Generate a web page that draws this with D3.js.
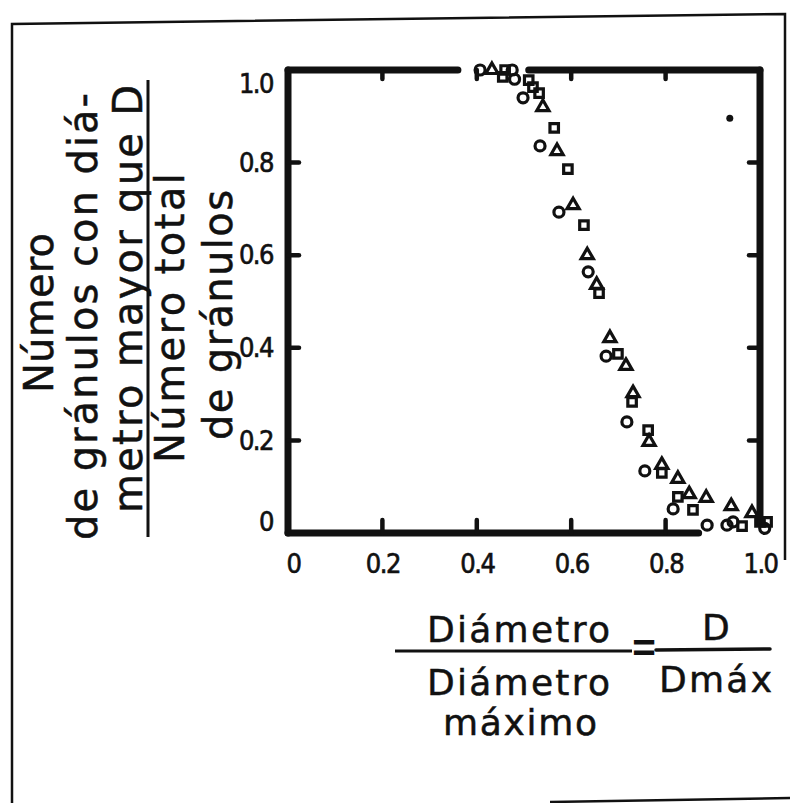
<!DOCTYPE html>
<html><head><meta charset="utf-8">
<script src="https://cdn.jsdelivr.net/npm/d3@7"></script>
<style>body{margin:0;background:#fff} svg{display:block;background:#fff}</style>
</head><body><svg id="c" width="790" height="803"></svg>
<script>
// ---- data ----
const circles = [[0.407,1.0],[0.475,1.0],[0.48,0.98],[0.498,0.94],[0.534,0.836],[0.574,0.693],[0.636,0.564],[0.674,0.382],[0.718,0.240],[0.756,0.134],[0.816,0.052],[0.888,0.017],[0.93,0.017],[0.943,0.024],[1.01,0.01]];
const triangles = [[0.432,1.0],[0.54,0.92],[0.57,0.825],[0.604,0.708],[0.634,0.60],[0.654,0.536],[0.682,0.421],[0.716,0.361],[0.731,0.302],[0.765,0.197],[0.792,0.147],[0.826,0.117],[0.85,0.084],[0.886,0.076],[0.939,0.058],[0.983,0.043]];
const squares = [[0.46,1.0],[0.455,0.985],[0.51,0.978],[0.519,0.963],[0.532,0.95],[0.564,0.875],[0.593,0.786],[0.627,0.665],[0.659,0.518],[0.699,0.387],[0.729,0.283],[0.763,0.222],[0.792,0.13],[0.826,0.078],[0.858,0.05],[0.962,0.015],[1.0,0.024],[1.015,0.024]];
const specks = [[0.936,0.896]];
const tickValues = [0,0.2,0.4,0.6,0.8,1.0];
const tickLabels = ['0','0.2','0.4','0.6','0.8','1.0'];
const innerTicks = [0.2,0.4,0.6,0.8];
const topAxisSegments = [[0,0.36],[0.51,1.0]];
const bottomAxisSegment = [0,0.87];
const rightAxisSegment = [0.02,1.0];
const yTitleLines = ['Número','de gránulos con diá-','metro mayor que D','Número total','de gránulos'];
const xTitleNum = 'Diámetro';
const xTitleDen = ['Diámetro','máximo'];
const xTitleNum2 = 'D';
const xTitleDen2 = 'Dmáx';

// ---- drawing ----
const svg = d3.select('#c');
const ink = '#111';
const x = d3.scaleLinear().domain([0,1]).range([288,760]);
const y = d3.scaleLinear().domain([0,1]).range([533,70]);
const FONT = "'DejaVu Sans', sans-serif";
const NUMFONT = "'DejaVu Sans Condensed','DejaVu Sans', sans-serif";

// outer border of the scanned figure
svg.append('path').attr('d','M12,803 L12,24 L785,14 L785,560')
  .attr('fill','none').attr('stroke',ink).attr('stroke-width',2.5);
svg.append('line').attr('x1',550).attr('y1',802).attr('x2',790).attr('y2',798)
  .attr('stroke',ink).attr('stroke-width',2.5);

// frame
const frame = svg.append('g').attr('stroke',ink).attr('stroke-linecap','round').attr('stroke-width',7);
frame.append('line').attr('x1',x(0)).attr('x2',x(0)).attr('y1',y(1)).attr('y2',y(0));
frame.append('line').attr('x1',x(bottomAxisSegment[0])).attr('x2',x(bottomAxisSegment[1])).attr('y1',y(0)).attr('y2',y(0));
frame.selectAll('.top').data(topAxisSegments).join('line')
  .attr('x1',d=>x(d[0])).attr('x2',d=>x(d[1])).attr('y1',y(1)).attr('y2',y(1));
frame.append('line').attr('x1',x(1)).attr('x2',x(1)).attr('y1',y(rightAxisSegment[1])).attr('y2',y(rightAxisSegment[0]));

// inward ticks
const tk = svg.append('g').attr('stroke',ink).attr('stroke-width',4.5).attr('stroke-linecap','round');
tk.selectAll('.tl').data(innerTicks).join('line').attr('x1',x(0)).attr('x2',x(0)+11).attr('y1',d=>y(d)).attr('y2',d=>y(d));
tk.selectAll('.tr').data(innerTicks).join('line').attr('x1',x(1)).attr('x2',x(1)-11).attr('y1',d=>y(d)).attr('y2',d=>y(d));
tk.selectAll('.tb').data(innerTicks).join('line').attr('x1',d=>x(d)).attr('x2',d=>x(d)).attr('y1',y(0)).attr('y2',y(0)-13);
tk.selectAll('.tt').data(innerTicks).join('line').attr('x1',d=>x(d)).attr('x2',d=>x(d)).attr('y1',y(1)).attr('y2',y(1)+9);

// tick labels via d3 axes
const gy = svg.append('g').attr('transform',`translate(${x(0)},0)`)
  .call(d3.axisLeft(y).tickValues(tickValues).tickFormat((d,i)=>tickLabels[i]).tickSize(0).tickPadding(15));
gy.select('.domain').remove();
gy.selectAll('text').attr('font-family',NUMFONT).attr('font-size',27).attr('letter-spacing','-1.5px')
  .attr('stroke',ink).attr('stroke-width',0.6)
  .attr('fill',ink).attr('dy',d=> d===0 ? '-3px' : (d===1 ? '22px' : '0.32em'));

const gx = svg.append('g').attr('transform',`translate(0,${y(0)})`)
  .call(d3.axisBottom(x).tickValues(tickValues).tickFormat((d,i)=>tickLabels[i]).tickSize(0).tickPadding(21));
gx.select('.domain').remove();
gx.selectAll('text').attr('font-family',NUMFONT).attr('font-size',27).attr('letter-spacing','-1.5px')
  .attr('stroke',ink).attr('stroke-width',0.6)
  .attr('fill',ink).attr('dx',d=> d===0 ? '5px' : 0);

// markers
const pts = svg.append('g').attr('fill','none').attr('stroke',ink).attr('stroke-width',3.2);
pts.selectAll('.c').data(circles).join('circle').attr('cx',d=>x(d[0])).attr('cy',d=>y(d[1])).attr('r',5);
const tri = d3.symbol().type(d3.symbolTriangle).size(64);
pts.selectAll('.t').data(triangles).join('path').attr('d',tri)
  .attr('transform',d=>`translate(${x(d[0])},${y(d[1])})`);
const sq = d3.symbol().type(d3.symbolSquare).size(72);
pts.selectAll('.s').data(squares).join('path').attr('d',sq)
  .attr('transform',d=>`translate(${x(d[0])},${y(d[1])})`);
svg.selectAll('.speck').data(specks).join('circle').attr('cx',d=>x(d[0])).attr('cy',d=>y(d[1])).attr('r',3.5).attr('fill',ink);

// y title (rotated, stacked fraction)
const yLayout = [ // baseline x, start y, text length
  [53,393,160],[97,540,447],[142,513,428],[184,463,290],[232,440,250]
];
const yt = svg.append('g').attr('font-family',FONT).attr('font-size',40).attr('fill',ink)
  .attr('stroke',ink).attr('stroke-width',0.5);
yt.selectAll('text').data(yTitleLines).join('text')
  .attr('transform',(d,i)=>`translate(${yLayout[i][0]},${yLayout[i][1]}) rotate(-90)`)
  .attr('textLength',(d,i)=>yLayout[i][2]).attr('lengthAdjust','spacing')
  .text(d=>d);
svg.append('line').attr('x1',148).attr('x2',148).attr('y1',80).attr('y2',537)
  .attr('stroke',ink).attr('stroke-width',3);

// x title
const xt = svg.append('g').attr('font-family',FONT).attr('font-size',36).attr('fill',ink)
  .attr('stroke',ink).attr('stroke-width',0.5);
xt.append('text').attr('x',427).attr('y',642).attr('textLength',183).attr('lengthAdjust','spacing').text(xTitleNum);
xt.append('text').attr('x',427).attr('y',695).attr('textLength',183).attr('lengthAdjust','spacing').text(xTitleDen[0]);
xt.append('text').attr('x',443).attr('y',735).attr('textLength',154).attr('lengthAdjust','spacing').text(xTitleDen[1]);
xt.append('text').attr('x',702).attr('y',640).text(xTitleNum2);
xt.append('text').attr('x',659).attr('y',692).attr('textLength',113).attr('lengthAdjust','spacing').text(xTitleDen2);
xt.append('text').attr('transform','translate(644,664) scale(0.6,1)').attr('font-size',54).attr('stroke-width',0)
  .attr('text-anchor','middle').text('=');
svg.append('line').attr('x1',395).attr('x2',632).attr('y1',651).attr('y2',651).attr('stroke',ink).attr('stroke-width',3);
svg.append('line').attr('x1',656).attr('x2',770).attr('y1',650).attr('y2',649).attr('stroke',ink).attr('stroke-width',3.5).attr('stroke-linecap','round');
</script></body></html>
